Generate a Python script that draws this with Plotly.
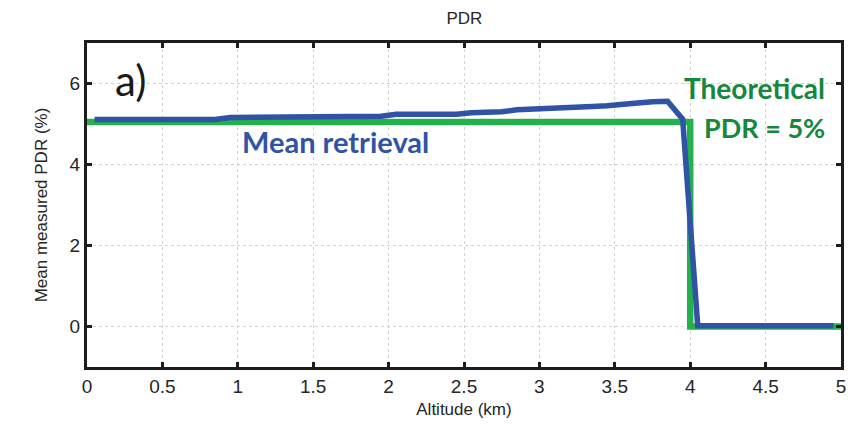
import plotly.graph_objects as go

# Mean retrieved PDR profile (bin centres, km) and values (%)
altitude_km = [0.05, 0.15, 0.25, 0.35, 0.45, 0.55, 0.65, 0.75, 0.85, 0.95,
               1.05, 1.15, 1.25, 1.35, 1.45, 1.55, 1.65, 1.75, 1.85, 1.95,
               2.05, 2.15, 2.25, 2.35, 2.45, 2.55, 2.65, 2.75, 2.85, 2.95,
               3.05, 3.15, 3.25, 3.35, 3.45, 3.55, 3.65, 3.75, 3.85, 3.95,
               4.05, 4.15, 4.25, 4.35, 4.45, 4.55, 4.65, 4.75, 4.85, 4.95]
mean_pdr = [5.11, 5.11, 5.11, 5.11, 5.11, 5.11, 5.11, 5.11, 5.11, 5.16,
            5.16, 5.16, 5.16, 5.16, 5.16, 5.16, 5.19, 5.19, 5.19, 5.19,
            5.24, 5.24, 5.24, 5.24, 5.24, 5.28, 5.29, 5.30, 5.35, 5.36,
            5.38, 5.39, 5.42, 5.43, 5.45, 5.47, 5.52, 5.55, 5.56, 5.12,
            0.02, 0.02, 0.02, 0.02, 0.02, 0.02, 0.02, 0.02, 0.02, 0.02]

# Theoretical PDR profile: 5 % inside the layer, 0 above it
theory_alt_km = [0.0, 4.0, 4.0, 5.0]
theory_pdr = [5.05, 5.05, 0.0, 0.0]

x_ticks = [0, 0.5, 1, 1.5, 2, 2.5, 3, 3.5, 4, 4.5, 5]
y_ticks = [0, 2, 4, 6]

BLUE = "rgb(48,83,165)"
GREEN = "rgb(36,176,76)"
GREEN_TEXT = "rgb(22,135,62)"
AXIS = "#1c1c1c"
LABEL = "#262626"
SANS = "Liberation Sans, Arial"

fig = go.Figure()
fig.add_trace(go.Scatter(x=theory_alt_km, y=theory_pdr, mode="lines",
                         line=dict(color=GREEN, width=6.5), showlegend=False))
fig.add_trace(go.Scatter(x=altitude_km, y=mean_pdr, mode="lines",
                         line=dict(color=BLUE, width=5.5), showlegend=False))

axis_common = dict(
    showline=True, linecolor=AXIS, linewidth=3, mirror="ticks",
    ticks="inside", ticklen=5, tickwidth=3, tickcolor=AXIS,
    showgrid=True, gridcolor="#d2d2d2", gridwidth=1, griddash="dot",
    zeroline=False,
    tickfont=dict(family=SANS, size=19, color=LABEL),
)

fig.update_xaxes(range=[0, 5], tickvals=x_ticks,
                 title=dict(text="Altitude (km)", standoff=8,
                            font=dict(family=SANS, size=17, color=LABEL)),
                 **axis_common)
fig.update_yaxes(range=[-1, 7], tickvals=y_ticks,
                 title=dict(text="Mean measured PDR (%)", standoff=18,
                            font=dict(family=SANS, size=17, color=LABEL)),
                 **axis_common)

fig.add_annotation(x=0.17, y=6.08, xref="x", yref="y", text="a)", showarrow=False,
                   xanchor="left", yanchor="middle",
                   font=dict(family="Lato", size=42, color="#1a1a1a"))
fig.add_annotation(x=1.65, y=4.57, xref="x", yref="y", text="<b>Mean retrieval</b>",
                   showarrow=False, xanchor="center", yanchor="middle",
                   font=dict(family="Lato", size=29, color=BLUE))
fig.add_annotation(x=4.91, y=5.88, xref="x", yref="y", text="<b>Theoretical</b>",
                   showarrow=False, xanchor="right", yanchor="middle",
                   font=dict(family="Lato", size=28, color=GREEN_TEXT))
fig.add_annotation(x=4.91, y=4.91, xref="x", yref="y", text="<b>PDR = 5%</b>",
                   showarrow=False, xanchor="right", yanchor="middle",
                   font=dict(family="Lato", size=27, color=GREEN_TEXT))

fig.update_layout(
    width=852, height=428,
    margin=dict(l=87, r=6, t=43, b=61),
    paper_bgcolor="white", plot_bgcolor="white",
    title=dict(text="PDR", x=0.545, xanchor="center", y=0.958, yanchor="middle",
               font=dict(family=SANS, size=17, color=LABEL)),
)

fig.write_html("out.html")
